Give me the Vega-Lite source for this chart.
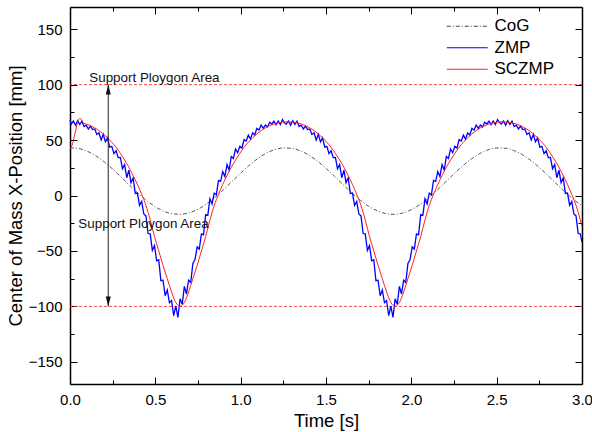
{
  "$schema": "https://vega.github.io/schema/vega-lite/v6.json",
  "autosize": {"type": "none"},
  "width": 512,
  "height": 377,
  "padding": {"left": 70, "top": 7, "right": 10, "bottom": 48},
  "background": "white",
  "config": {
    "font": "Liberation Sans",
    "view": {"stroke": null},
    "axis": {
      "domainColor": "black", "domainWidth": 1.5, "tickColor": "black", "tickWidth": 1,
      "grid": false, "labelFontSize": 15, "labelColor": "black", "titleFontSize": 18.5,
      "titleFontWeight": "normal", "titleColor": "black", "labelFont": "Liberation Sans", "titleFont": "Liberation Sans"
    }
  },
  "datasets": {
    "cog": [
      {"series":"CoG","t":0,"v":43.0},{"series":"CoG","t":0.05,"v":42.4},{"series":"CoG","t":0.1,"v":40.0},{"series":"CoG","t":0.15,"v":35.9},{"series":"CoG","t":0.2,"v":30.4},{"series":"CoG","t":0.25,"v":23.8},{"series":"CoG","t":0.3,"v":16.6},{"series":"CoG","t":0.35,"v":9.1},{"series":"CoG","t":0.4,"v":1.8},{"series":"CoG","t":0.45,"v":-4.7},{"series":"CoG","t":0.5,"v":-10.2},{"series":"CoG","t":0.55,"v":-14.2},{"series":"CoG","t":0.6,"v":-16.5},{"series":"CoG","t":0.65,"v":-16.9},{"series":"CoG","t":0.7,"v":-15.5},{"series":"CoG","t":0.75,"v":-12.4},{"series":"CoG","t":0.8,"v":-7.6},{"series":"CoG","t":0.85,"v":-1.6},{"series":"CoG","t":0.9,"v":5.4},{"series":"CoG","t":0.95,"v":12.8},{"series":"CoG","t":1.0,"v":20.2},{"series":"CoG","t":1.05,"v":27.2},{"series":"CoG","t":1.1,"v":33.3},{"series":"CoG","t":1.15,"v":38.2},{"series":"CoG","t":1.2,"v":41.4},{"series":"CoG","t":1.25,"v":42.9},{"series":"CoG","t":1.3,"v":42.5},{"series":"CoG","t":1.35,"v":40.3},{"series":"CoG","t":1.4,"v":36.4},{"series":"CoG","t":1.45,"v":31.0},{"series":"CoG","t":1.5,"v":24.5},{"series":"CoG","t":1.55,"v":17.3},{"series":"CoG","t":1.6,"v":9.8},{"series":"CoG","t":1.65,"v":2.5},{"series":"CoG","t":1.7,"v":-4.1},{"series":"CoG","t":1.75,"v":-9.7},{"series":"CoG","t":1.8,"v":-13.8},{"series":"CoG","t":1.85,"v":-16.3},{"series":"CoG","t":1.9,"v":-17.0},{"series":"CoG","t":1.95,"v":-15.8},{"series":"CoG","t":2.0,"v":-12.8},{"series":"CoG","t":2.05,"v":-8.1},{"series":"CoG","t":2.1,"v":-2.2},{"series":"CoG","t":2.15,"v":4.7},{"series":"CoG","t":2.2,"v":12.1},{"series":"CoG","t":2.25,"v":19.5},{"series":"CoG","t":2.3,"v":26.6},{"series":"CoG","t":2.35,"v":32.8},{"series":"CoG","t":2.4,"v":37.7},{"series":"CoG","t":2.45,"v":41.2},{"series":"CoG","t":2.5,"v":42.8},{"series":"CoG","t":2.55,"v":42.7},{"series":"CoG","t":2.6,"v":40.6},{"series":"CoG","t":2.65,"v":36.9},{"series":"CoG","t":2.7,"v":31.6},{"series":"CoG","t":2.75,"v":25.2},{"series":"CoG","t":2.8,"v":18.0},{"series":"CoG","t":2.85,"v":10.6},{"series":"CoG","t":2.9,"v":3.2},{"series":"CoG","t":2.95,"v":-3.5},{"series":"CoG","t":3.0,"v":-9.2}
    ],
    "zmp": [
      {"series":"ZMP","t":0,"v":68},{"series":"ZMP","t":0.0075,"v":64.4},{"series":"ZMP","t":0.02,"v":67.2},{"series":"ZMP","t":0.0325,"v":63.4},{"series":"ZMP","t":0.045,"v":67.5},{"series":"ZMP","t":0.0575,"v":64},{"series":"ZMP","t":0.07,"v":67},{"series":"ZMP","t":0.0825,"v":62.3},{"series":"ZMP","t":0.095,"v":63.5},{"series":"ZMP","t":0.1075,"v":60},{"series":"ZMP","t":0.12,"v":62.5},{"series":"ZMP","t":0.1325,"v":59.5},{"series":"ZMP","t":0.145,"v":60},{"series":"ZMP","t":0.1575,"v":55},{"series":"ZMP","t":0.17,"v":56.5},{"series":"ZMP","t":0.1825,"v":50},{"series":"ZMP","t":0.195,"v":55.2},{"series":"ZMP","t":0.2075,"v":48.4},{"series":"ZMP","t":0.22,"v":52},{"series":"ZMP","t":0.2325,"v":43.6},{"series":"ZMP","t":0.245,"v":44.3},{"series":"ZMP","t":0.2575,"v":37.8},{"series":"ZMP","t":0.27,"v":40.4},{"series":"ZMP","t":0.2825,"v":34.2},{"series":"ZMP","t":0.295,"v":34.4},{"series":"ZMP","t":0.3075,"v":24.2},{"series":"ZMP","t":0.32,"v":27.9},{"series":"ZMP","t":0.3325,"v":16},{"series":"ZMP","t":0.345,"v":22.8},{"series":"ZMP","t":0.3575,"v":11.6},{"series":"ZMP","t":0.37,"v":16},{"series":"ZMP","t":0.3825,"v":1.9},{"series":"ZMP","t":0.395,"v":2.2},{"series":"ZMP","t":0.4075,"v":-8.8},{"series":"ZMP","t":0.42,"v":-5.4},{"series":"ZMP","t":0.4325,"v":-16.7},{"series":"ZMP","t":0.445,"v":-18.4},{"series":"ZMP","t":0.4575,"v":-34.3},{"series":"ZMP","t":0.47,"v":-34.6},{"series":"ZMP","t":0.4825,"v":-49.5},{"series":"ZMP","t":0.495,"v":-45.2},{"series":"ZMP","t":0.5075,"v":-58.9},{"series":"ZMP","t":0.52,"v":-58},{"series":"ZMP","t":0.5325,"v":-76.8},{"series":"ZMP","t":0.545,"v":-76.4},{"series":"ZMP","t":0.5575,"v":-90.4},{"series":"ZMP","t":0.57,"v":-85.2},{"series":"ZMP","t":0.5825,"v":-96.6},{"series":"ZMP","t":0.595,"v":-94.7},{"series":"ZMP","t":0.6075,"v":-108.4},{"series":"ZMP","t":0.62,"v":-99.8},{"series":"ZMP","t":0.6325,"v":-110},{"series":"ZMP","t":0.645,"v":-93.1},{"series":"ZMP","t":0.6575,"v":-98.2},{"series":"ZMP","t":0.67,"v":-82},{"series":"ZMP","t":0.6825,"v":-88.8},{"series":"ZMP","t":0.695,"v":-76.4},{"series":"ZMP","t":0.7075,"v":-78.4},{"series":"ZMP","t":0.72,"v":-61.2},{"series":"ZMP","t":0.7325,"v":-57.7},{"series":"ZMP","t":0.745,"v":-46.4},{"series":"ZMP","t":0.7575,"v":-48.3},{"series":"ZMP","t":0.77,"v":-34.6},{"series":"ZMP","t":0.7825,"v":-35.5},{"series":"ZMP","t":0.795,"v":-17.2},{"series":"ZMP","t":0.8075,"v":-17.9},{"series":"ZMP","t":0.82,"v":-3},{"series":"ZMP","t":0.8325,"v":-7.6},{"series":"ZMP","t":0.845,"v":2.2},{"series":"ZMP","t":0.8575,"v":0.7},{"series":"ZMP","t":0.87,"v":13.6},{"series":"ZMP","t":0.8825,"v":12.8},{"series":"ZMP","t":0.895,"v":21.6},{"series":"ZMP","t":0.9075,"v":17.2},{"series":"ZMP","t":0.92,"v":27.9},{"series":"ZMP","t":0.9325,"v":23},{"series":"ZMP","t":0.945,"v":35.2},{"series":"ZMP","t":0.9575,"v":33.4},{"series":"ZMP","t":0.97,"v":42},{"series":"ZMP","t":0.9825,"v":38.6},{"series":"ZMP","t":0.995,"v":44.3},{"series":"ZMP","t":1.0075,"v":42.8},{"series":"ZMP","t":1.02,"v":50.4},{"series":"ZMP","t":1.0325,"v":49.2},{"series":"ZMP","t":1.045,"v":54.4},{"series":"ZMP","t":1.0575,"v":50.8},{"series":"ZMP","t":1.07,"v":56.5},{"series":"ZMP","t":1.0825,"v":54.5},{"series":"ZMP","t":1.095,"v":60.5},{"series":"ZMP","t":1.1075,"v":59},{"series":"ZMP","t":1.12,"v":63.5},{"series":"ZMP","t":1.1325,"v":60.5},{"series":"ZMP","t":1.145,"v":63.5},{"series":"ZMP","t":1.1575,"v":61.8},{"series":"ZMP","t":1.17,"v":66},{"series":"ZMP","t":1.1825,"v":64.5},{"series":"ZMP","t":1.195,"v":67},{"series":"ZMP","t":1.2075,"v":63.9},{"series":"ZMP","t":1.22,"v":67.2},{"series":"ZMP","t":1.2325,"v":63.9},{"series":"ZMP","t":1.245,"v":68.5},
      {"series":"ZMP","t":1.255,"v":65.5},{"series":"ZMP","t":1.2675,"v":64.4},{"series":"ZMP","t":1.28,"v":67.2},{"series":"ZMP","t":1.2925,"v":63.4},{"series":"ZMP","t":1.305,"v":67.5},{"series":"ZMP","t":1.3175,"v":64},{"series":"ZMP","t":1.33,"v":67},{"series":"ZMP","t":1.3425,"v":62.3},{"series":"ZMP","t":1.355,"v":63.5},{"series":"ZMP","t":1.3675,"v":60},{"series":"ZMP","t":1.38,"v":62.5},{"series":"ZMP","t":1.3925,"v":59.5},{"series":"ZMP","t":1.405,"v":60},{"series":"ZMP","t":1.4175,"v":55},{"series":"ZMP","t":1.43,"v":56.5},{"series":"ZMP","t":1.4425,"v":50},{"series":"ZMP","t":1.455,"v":55.2},{"series":"ZMP","t":1.4675,"v":48.4},{"series":"ZMP","t":1.48,"v":52},{"series":"ZMP","t":1.4925,"v":43.6},{"series":"ZMP","t":1.505,"v":44.3},{"series":"ZMP","t":1.5175,"v":37.8},{"series":"ZMP","t":1.53,"v":40.4},{"series":"ZMP","t":1.5425,"v":34.2},{"series":"ZMP","t":1.555,"v":34.4},{"series":"ZMP","t":1.5675,"v":24.2},{"series":"ZMP","t":1.58,"v":27.9},{"series":"ZMP","t":1.5925,"v":16},{"series":"ZMP","t":1.605,"v":22.8},{"series":"ZMP","t":1.6175,"v":11.6},{"series":"ZMP","t":1.63,"v":16},{"series":"ZMP","t":1.6425,"v":1.9},{"series":"ZMP","t":1.655,"v":2.2},{"series":"ZMP","t":1.6675,"v":-8.8},{"series":"ZMP","t":1.68,"v":-5.4},{"series":"ZMP","t":1.6925,"v":-16.7},{"series":"ZMP","t":1.705,"v":-18.4},{"series":"ZMP","t":1.7175,"v":-34.3},{"series":"ZMP","t":1.73,"v":-34.6},{"series":"ZMP","t":1.7425,"v":-49.5},{"series":"ZMP","t":1.755,"v":-45.2},{"series":"ZMP","t":1.7675,"v":-58.9},{"series":"ZMP","t":1.78,"v":-58},{"series":"ZMP","t":1.7925,"v":-76.8},{"series":"ZMP","t":1.805,"v":-76.4},{"series":"ZMP","t":1.8175,"v":-90.4},{"series":"ZMP","t":1.83,"v":-85.2},{"series":"ZMP","t":1.8425,"v":-96.6},{"series":"ZMP","t":1.855,"v":-94.7},{"series":"ZMP","t":1.8675,"v":-108.4},{"series":"ZMP","t":1.88,"v":-99.8},{"series":"ZMP","t":1.8925,"v":-110},{"series":"ZMP","t":1.905,"v":-93.1},{"series":"ZMP","t":1.9175,"v":-98.2},{"series":"ZMP","t":1.93,"v":-82},{"series":"ZMP","t":1.9425,"v":-88.8},{"series":"ZMP","t":1.955,"v":-76.4},{"series":"ZMP","t":1.9675,"v":-78.4},{"series":"ZMP","t":1.98,"v":-61.2},{"series":"ZMP","t":1.9925,"v":-57.7},{"series":"ZMP","t":2.005,"v":-46.4},{"series":"ZMP","t":2.0175,"v":-48.3},{"series":"ZMP","t":2.03,"v":-34.6},{"series":"ZMP","t":2.0425,"v":-35.5},{"series":"ZMP","t":2.055,"v":-17.2},{"series":"ZMP","t":2.0675,"v":-17.9},{"series":"ZMP","t":2.08,"v":-3},{"series":"ZMP","t":2.0925,"v":-7.6},{"series":"ZMP","t":2.105,"v":2.2},{"series":"ZMP","t":2.1175,"v":0.7},{"series":"ZMP","t":2.13,"v":13.6},{"series":"ZMP","t":2.1425,"v":12.8},{"series":"ZMP","t":2.155,"v":21.6},{"series":"ZMP","t":2.1675,"v":17.2},{"series":"ZMP","t":2.18,"v":27.9},{"series":"ZMP","t":2.1925,"v":23},{"series":"ZMP","t":2.205,"v":35.2},{"series":"ZMP","t":2.2175,"v":33.4},{"series":"ZMP","t":2.23,"v":42},{"series":"ZMP","t":2.2425,"v":38.6},{"series":"ZMP","t":2.255,"v":44.3},{"series":"ZMP","t":2.2675,"v":42.8},{"series":"ZMP","t":2.28,"v":50.4},{"series":"ZMP","t":2.2925,"v":49.2},{"series":"ZMP","t":2.305,"v":54.4},{"series":"ZMP","t":2.3175,"v":50.8},{"series":"ZMP","t":2.33,"v":56.5},{"series":"ZMP","t":2.3425,"v":54.5},{"series":"ZMP","t":2.355,"v":60.5},{"series":"ZMP","t":2.3675,"v":59},{"series":"ZMP","t":2.38,"v":63.5},{"series":"ZMP","t":2.3925,"v":60.5},{"series":"ZMP","t":2.405,"v":63.5},{"series":"ZMP","t":2.4175,"v":61.8},{"series":"ZMP","t":2.43,"v":66},{"series":"ZMP","t":2.4425,"v":64.5},{"series":"ZMP","t":2.455,"v":67},{"series":"ZMP","t":2.4675,"v":63.9},{"series":"ZMP","t":2.48,"v":67.2},{"series":"ZMP","t":2.4925,"v":63.9},{"series":"ZMP","t":2.505,"v":68.5},
      {"series":"ZMP","t":2.515,"v":66},{"series":"ZMP","t":2.5275,"v":64.4},{"series":"ZMP","t":2.54,"v":67.2},{"series":"ZMP","t":2.5525,"v":63.4},{"series":"ZMP","t":2.565,"v":67.5},{"series":"ZMP","t":2.5775,"v":64},{"series":"ZMP","t":2.59,"v":67},{"series":"ZMP","t":2.6025,"v":62.3},{"series":"ZMP","t":2.615,"v":63.5},{"series":"ZMP","t":2.6275,"v":60},{"series":"ZMP","t":2.64,"v":62.5},{"series":"ZMP","t":2.6525,"v":59.5},{"series":"ZMP","t":2.665,"v":60},{"series":"ZMP","t":2.6775,"v":55},{"series":"ZMP","t":2.69,"v":56.5},{"series":"ZMP","t":2.7025,"v":50},{"series":"ZMP","t":2.715,"v":55.2},{"series":"ZMP","t":2.7275,"v":48.4},{"series":"ZMP","t":2.74,"v":52},{"series":"ZMP","t":2.7525,"v":43.6},{"series":"ZMP","t":2.765,"v":44.3},{"series":"ZMP","t":2.7775,"v":37.8},{"series":"ZMP","t":2.79,"v":40.4},{"series":"ZMP","t":2.8025,"v":34.2},{"series":"ZMP","t":2.815,"v":34.4},{"series":"ZMP","t":2.8275,"v":24.2},{"series":"ZMP","t":2.84,"v":27.9},{"series":"ZMP","t":2.8525,"v":16},{"series":"ZMP","t":2.865,"v":22.8},{"series":"ZMP","t":2.8775,"v":11.6},{"series":"ZMP","t":2.89,"v":16},{"series":"ZMP","t":2.9025,"v":1.9},{"series":"ZMP","t":2.915,"v":2.2},{"series":"ZMP","t":2.9275,"v":-8.8},{"series":"ZMP","t":2.94,"v":-5.4},{"series":"ZMP","t":2.9525,"v":-16.7},{"series":"ZMP","t":2.965,"v":-18.4},{"series":"ZMP","t":2.9775,"v":-34.3},{"series":"ZMP","t":2.99,"v":-34.6},{"series":"ZMP","t":3.0,"v":-42}
    ],
    "sczmp": [
      {"series":"SCZMP","t":0,"v":43},{"series":"SCZMP","t":0.01,"v":44.5},{"series":"SCZMP","t":0.03,"v":56.5},{"series":"SCZMP","t":0.05,"v":68.5},{"series":"SCZMP","t":0.06,"v":69.4},{"series":"SCZMP","t":0.08,"v":65.2},{"series":"SCZMP","t":0.1,"v":64.2},
      {"series":"SCZMP","t":0.12,"v":63},{"series":"SCZMP","t":0.145,"v":61},{"series":"SCZMP","t":0.17,"v":58.5},{"series":"SCZMP","t":0.195,"v":55.5},{"series":"SCZMP","t":0.22,"v":52},{"series":"SCZMP","t":0.245,"v":48},{"series":"SCZMP","t":0.27,"v":43.5},{"series":"SCZMP","t":0.295,"v":38},{"series":"SCZMP","t":0.32,"v":32},{"series":"SCZMP","t":0.345,"v":25.5},{"series":"SCZMP","t":0.37,"v":18},{"series":"SCZMP","t":0.395,"v":10},{"series":"SCZMP","t":0.42,"v":1},{"series":"SCZMP","t":0.445,"v":-9},{"series":"SCZMP","t":0.47,"v":-22},{"series":"SCZMP","t":0.495,"v":-37},{"series":"SCZMP","t":0.52,"v":-50},{"series":"SCZMP","t":0.545,"v":-63},{"series":"SCZMP","t":0.57,"v":-75},{"series":"SCZMP","t":0.595,"v":-87},{"series":"SCZMP","t":0.62,"v":-96.5},{"series":"SCZMP","t":0.645,"v":-100},{"series":"SCZMP","t":0.67,"v":-96.5},{"series":"SCZMP","t":0.695,"v":-87},{"series":"SCZMP","t":0.72,"v":-75},{"series":"SCZMP","t":0.745,"v":-63},{"series":"SCZMP","t":0.77,"v":-50},{"series":"SCZMP","t":0.795,"v":-37},{"series":"SCZMP","t":0.82,"v":-22},{"series":"SCZMP","t":0.845,"v":-9},{"series":"SCZMP","t":0.87,"v":1},{"series":"SCZMP","t":0.895,"v":10},{"series":"SCZMP","t":0.92,"v":18},{"series":"SCZMP","t":0.945,"v":25.5},{"series":"SCZMP","t":0.97,"v":32},{"series":"SCZMP","t":0.995,"v":38},{"series":"SCZMP","t":1.02,"v":43.5},{"series":"SCZMP","t":1.045,"v":48},{"series":"SCZMP","t":1.07,"v":52},{"series":"SCZMP","t":1.095,"v":55.5},{"series":"SCZMP","t":1.12,"v":58.5},{"series":"SCZMP","t":1.145,"v":61},{"series":"SCZMP","t":1.17,"v":63},{"series":"SCZMP","t":1.195,"v":64.5},{"series":"SCZMP","t":1.22,"v":65.5},{"series":"SCZMP","t":1.245,"v":66.2},{"series":"SCZMP","t":1.27,"v":66.5},
      {"series":"SCZMP","t":1.28,"v":66.5},{"series":"SCZMP","t":1.305,"v":66.2},{"series":"SCZMP","t":1.33,"v":65.5},{"series":"SCZMP","t":1.355,"v":64.5},{"series":"SCZMP","t":1.38,"v":63},{"series":"SCZMP","t":1.405,"v":61},{"series":"SCZMP","t":1.43,"v":58.5},{"series":"SCZMP","t":1.455,"v":55.5},{"series":"SCZMP","t":1.48,"v":52},{"series":"SCZMP","t":1.505,"v":48},{"series":"SCZMP","t":1.53,"v":43.5},{"series":"SCZMP","t":1.555,"v":38},{"series":"SCZMP","t":1.58,"v":32},{"series":"SCZMP","t":1.605,"v":25.5},{"series":"SCZMP","t":1.63,"v":18},{"series":"SCZMP","t":1.655,"v":10},{"series":"SCZMP","t":1.68,"v":1},{"series":"SCZMP","t":1.705,"v":-9},{"series":"SCZMP","t":1.73,"v":-22},{"series":"SCZMP","t":1.755,"v":-37},{"series":"SCZMP","t":1.78,"v":-50},{"series":"SCZMP","t":1.805,"v":-63},{"series":"SCZMP","t":1.83,"v":-75},{"series":"SCZMP","t":1.855,"v":-87},{"series":"SCZMP","t":1.88,"v":-96.5},{"series":"SCZMP","t":1.905,"v":-100},{"series":"SCZMP","t":1.93,"v":-96.5},{"series":"SCZMP","t":1.955,"v":-87},{"series":"SCZMP","t":1.98,"v":-75},{"series":"SCZMP","t":2.005,"v":-63},{"series":"SCZMP","t":2.03,"v":-50},{"series":"SCZMP","t":2.055,"v":-37},{"series":"SCZMP","t":2.08,"v":-22},{"series":"SCZMP","t":2.105,"v":-9},{"series":"SCZMP","t":2.13,"v":1},{"series":"SCZMP","t":2.155,"v":10},{"series":"SCZMP","t":2.18,"v":18},{"series":"SCZMP","t":2.205,"v":25.5},{"series":"SCZMP","t":2.23,"v":32},{"series":"SCZMP","t":2.255,"v":38},{"series":"SCZMP","t":2.28,"v":43.5},{"series":"SCZMP","t":2.305,"v":48},{"series":"SCZMP","t":2.33,"v":52},{"series":"SCZMP","t":2.355,"v":55.5},{"series":"SCZMP","t":2.38,"v":58.5},{"series":"SCZMP","t":2.405,"v":61},{"series":"SCZMP","t":2.43,"v":63},{"series":"SCZMP","t":2.455,"v":64.5},{"series":"SCZMP","t":2.48,"v":65.5},{"series":"SCZMP","t":2.505,"v":66.2},{"series":"SCZMP","t":2.53,"v":66.5},
      {"series":"SCZMP","t":2.54,"v":66.5},{"series":"SCZMP","t":2.565,"v":66.2},{"series":"SCZMP","t":2.59,"v":65.5},{"series":"SCZMP","t":2.615,"v":64.5},{"series":"SCZMP","t":2.64,"v":63},{"series":"SCZMP","t":2.665,"v":61},{"series":"SCZMP","t":2.69,"v":58.5},{"series":"SCZMP","t":2.715,"v":55.5},{"series":"SCZMP","t":2.74,"v":52},{"series":"SCZMP","t":2.765,"v":48},{"series":"SCZMP","t":2.79,"v":43.5},{"series":"SCZMP","t":2.815,"v":38},{"series":"SCZMP","t":2.84,"v":32},{"series":"SCZMP","t":2.865,"v":25.5},{"series":"SCZMP","t":2.89,"v":18},{"series":"SCZMP","t":2.915,"v":10},{"series":"SCZMP","t":2.94,"v":1},{"series":"SCZMP","t":2.965,"v":-9},{"series":"SCZMP","t":2.99,"v":-22},{"series":"SCZMP","t":3.0,"v":-28}
    ],
    "limits": [{"v": 100}, {"v": -100}],
    "arrow": [{"t": 0.224, "v1": -100, "v2": 100}],
    "arrowUp": [{"t": 0.224, "v": 100}],
    "arrowDown": [{"t": 0.224, "v": -100}],
    "notes": [
      {"t": 0.113, "v": 102, "label": "Support Ploygon Area"},
      {"t": 0.049, "v": -29, "label": "Support Ploygon Area"}
    ]
  },
  "resolve": {"axis": {"x": "independent", "y": "independent"}},
  "layer": [
    {
      "data": {"name": "limits"},
      "mark": {"type": "rule", "color": "#ff3333", "strokeWidth": 0.9, "strokeDash": [3, 2]},
      "encoding": {
        "y": {"field": "v", "type": "quantitative", "scale": {"domain": [-170, 170], "nice": false, "zero": false}, "axis": null}
      }
    },
    {
      "data": {"name": "cog"},
      "mark": {"type": "line", "strokeWidth": 0.9, "interpolate": "monotone", "strokeDash": [4, 2, 1, 2]},
      "encoding": {
        "x": {"field": "t", "type": "quantitative", "scale": {"domain": [0, 3], "nice": false, "zero": false},
          "axis": {"orient": "bottom", "title": "Time [s]", "values": [0,0.5,1,1.5,2,2.5,3], "format": ".1f",
            "domain": false, "ticks": false, "labelPadding": 8, "titlePadding": 4, "labelFlush": false, "labelOverlap": false}},
        "y": {"field": "v", "type": "quantitative", "scale": {"domain": [-170, 170], "nice": false, "zero": false},
          "axis": {"orient": "left", "title": "Center of Mass X-Position [mm]", "values": [-150,-100,-50,0,50,100,150], "format": "d",
            "domain": false, "ticks": false, "labelPadding": 8, "titlePadding": 3, "labelOverlap": false}},
        "color": {"field": "series", "type": "nominal",
          "scale": {"domain": ["CoG", "ZMP", "SCZMP"], "range": ["#444444", "#0000ff", "#ff2020"]},
          "legend": {"orient": "none", "legendX": 386.25, "legendY": 8.25, "title": null, "symbolType": "M-2,0H2", "symbolSize": 420,
            "symbolStrokeWidth": 1, "labelFontSize": 17, "labelOffset": 16.25, "labelColor": "black", "padding": 0, "rowPadding": 2.5,
            "encode": {"symbols": {"update": {"strokeDash": {"signal": "datum.value === 'CoG' ? [4, 2, 1, 2] : []"}}}}}}
      }
    },
    {
      "data": {"name": "zmp"},
      "mark": {"type": "line", "strokeWidth": 1.3},
      "encoding": {
        "x": {"field": "t", "type": "quantitative",
          "axis": {"orient": "top", "offset": -377, "title": null, "labels": false, "values": [0,0.25,0.5,0.75,1,1.25,1.5,1.75,2,2.25,2.5,2.75,3],
            "tickSize": {"condition": {"test": "datum.value % 0.5 === 0", "value": 7}, "value": 4}}},
        "y": {"field": "v", "type": "quantitative",
          "axis": {"orient": "right", "offset": -512, "title": null, "labels": false, "values": [-150,-125,-100,-75,-50,-25,0,25,50,75,100,125,150],
            "tickSize": {"condition": {"test": "datum.value % 50 === 0", "value": 7}, "value": 4}}},
        "color": {"field": "series", "type": "nominal"}
      }
    },
    {
      "data": {"name": "sczmp"},
      "mark": {"type": "line", "strokeWidth": 1, "interpolate": "monotone"},
      "encoding": {
        "x": {"field": "t", "type": "quantitative",
          "axis": {"orient": "bottom", "offset": -377, "title": null, "labels": false, "values": [0,0.25,0.5,0.75,1,1.25,1.5,1.75,2,2.25,2.5,2.75,3],
            "tickSize": {"condition": {"test": "datum.value % 0.5 === 0", "value": 7}, "value": 4}}},
        "y": {"field": "v", "type": "quantitative",
          "axis": {"orient": "left", "offset": -512, "title": null, "labels": false, "values": [-150,-125,-100,-75,-50,-25,0,25,50,75,100,125,150],
            "tickSize": {"condition": {"test": "datum.value % 50 === 0", "value": 7}, "value": 4}}},
        "color": {"field": "series", "type": "nominal"}
      }
    },
    {
      "data": {"name": "arrow"},
      "mark": {"type": "rule", "color": "#222222", "strokeWidth": 1},
      "encoding": {
        "x": {"field": "t", "type": "quantitative", "axis": null},
        "y": {"field": "v1", "type": "quantitative", "axis": null},
        "y2": {"field": "v2"}
      }
    },
    {
      "data": {"name": "arrowUp"},
      "mark": {"type": "point", "shape": "M0,0L-0.5,2L0.5,2Z", "size": 100, "filled": true, "color": "#111111", "opacity": 1, "strokeWidth": 0},
      "encoding": {
        "x": {"field": "t", "type": "quantitative", "axis": null},
        "y": {"field": "v", "type": "quantitative", "axis": null}
      }
    },
    {
      "data": {"name": "arrowDown"},
      "mark": {"type": "point", "shape": "M0,0L-0.5,-2L0.5,-2Z", "size": 100, "filled": true, "color": "#111111", "opacity": 1, "strokeWidth": 0},
      "encoding": {
        "x": {"field": "t", "type": "quantitative", "axis": null},
        "y": {"field": "v", "type": "quantitative", "axis": null}
      }
    },
    {
      "data": {"name": "notes"},
      "mark": {"type": "text", "align": "left", "baseline": "alphabetic", "fontSize": 13.4, "color": "#111111", "font": "Liberation Sans"},
      "encoding": {
        "x": {"field": "t", "type": "quantitative", "axis": null},
        "y": {"field": "v", "type": "quantitative", "axis": null},
        "text": {"field": "label"}
      }
    }
  ]
}
